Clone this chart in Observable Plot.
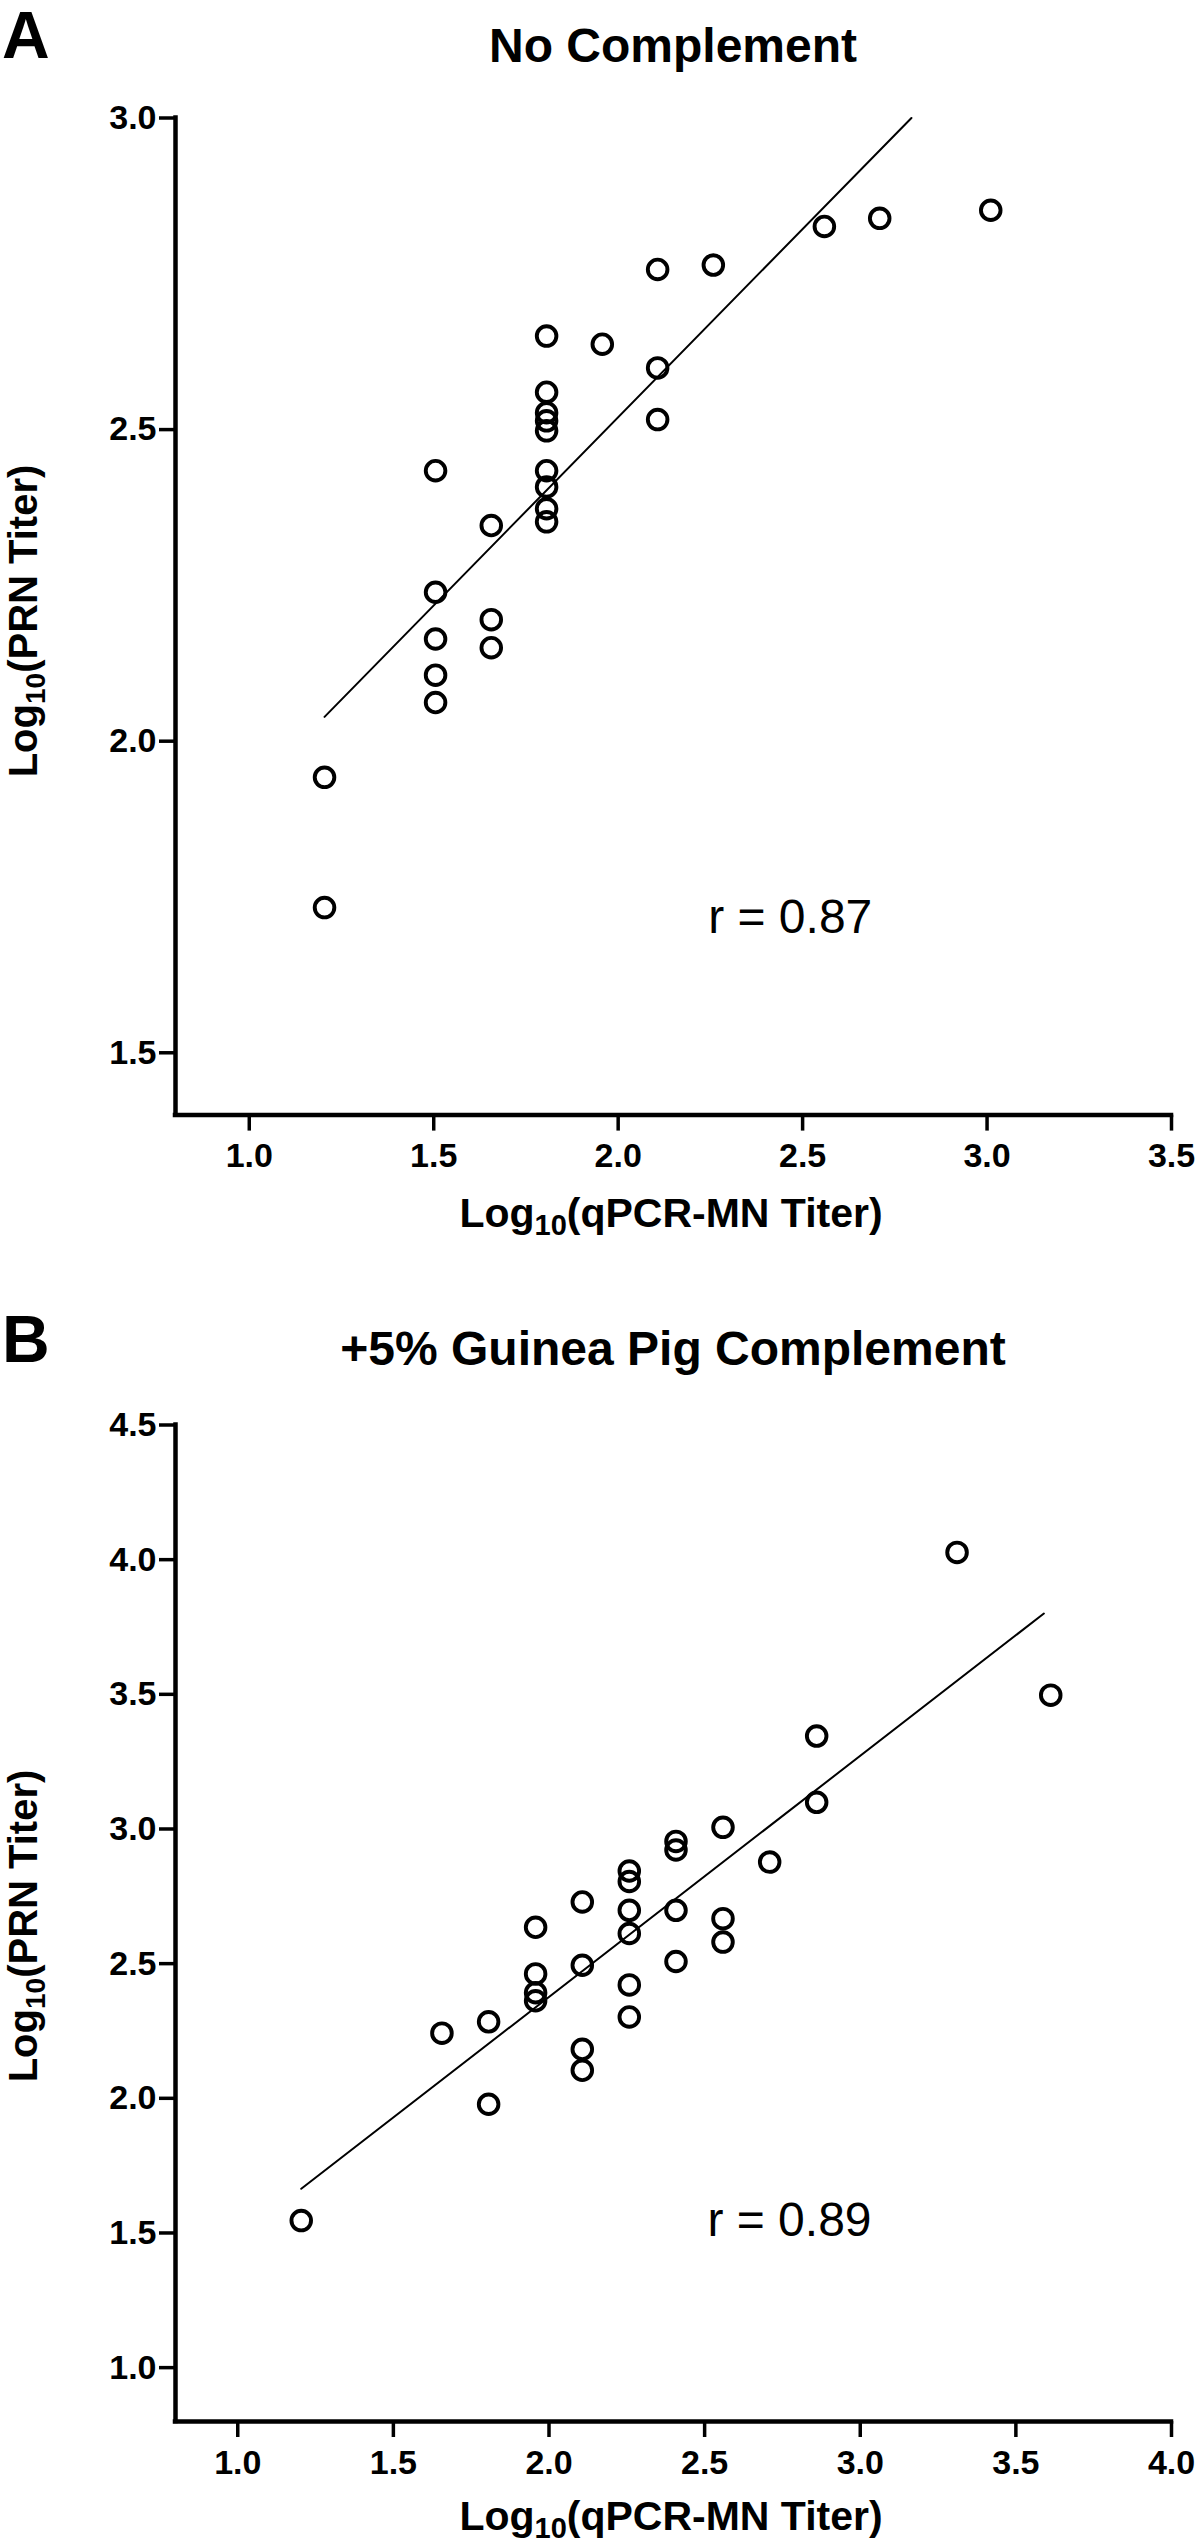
<!DOCTYPE html>
<html>
<head>
<meta charset="utf-8">
<script src="https://cdn.jsdelivr.net/npm/d3@7"></script>
<script src="https://cdn.jsdelivr.net/npm/@observablehq/plot@0.6"></script>
<style>
  html, body { margin: 0; padding: 0; background: #fff; }
  #root { position: relative; width: 1200px; height: 2548px; background: #fff; }
  .panel { position: absolute; left: 0; }
</style>
</head>
<body>
<div id="root"></div>
<script>
const FONT = '"Liberation Sans", Arial, Helvetica, sans-serif';

// ---------- Panel A: No Complement ----------
const panelA_letter = "A";
const panelA_title = "No Complement";
const panelA_x = [1.204, 1.204, 1.505, 1.505, 1.505, 1.505, 1.505, 1.656, 1.656, 1.656,
                  1.806, 1.806, 1.806, 1.806, 1.806, 1.806, 1.806, 1.806, 1.806,
                  1.957, 2.107, 2.107, 2.107, 2.258, 2.559, 2.709, 3.010];
const panelA_y = [1.942, 1.733, 2.434, 2.239, 2.164, 2.106, 2.062, 2.346, 2.195, 2.150,
                  2.650, 2.560, 2.527, 2.514, 2.498, 2.434, 2.408, 2.373, 2.352,
                  2.637, 2.757, 2.599, 2.516, 2.764, 2.826, 2.839, 2.852];
const panelA_fitX = [1.204, 2.795];
const panelA_fitY = [2.039, 3.0];
const panelA_xDomain = [0.8, 3.5];
const panelA_yDomain = [1.4, 3.0];
const panelA_xTicks = [1.0, 1.5, 2.0, 2.5, 3.0, 3.5];
const panelA_yTicks = [1.5, 2.0, 2.5, 3.0];
const panelA_r = [{x: 2.244, y: 1.692, label: "r = 0.87"}];

// ---------- Panel B: +5% Guinea Pig Complement ----------
const panelB_letter = "B";
const panelB_title = "+5% Guinea Pig Complement";
const panelB_x = [1.204, 1.656, 1.806, 1.806, 1.957, 1.957, 1.957, 1.957,
                  2.107, 2.107, 2.107, 2.107, 2.258, 2.258, 2.258, 2.258, 2.258, 2.258,
                  2.408, 2.408, 2.408, 2.408, 2.559, 2.559, 2.559, 2.709, 2.860, 2.860,
                  3.311, 3.612];
const panelB_y = [1.546, 2.242, 2.284, 1.978, 2.635, 2.462, 2.392, 2.362,
                  2.729, 2.494, 2.182, 2.104, 2.844, 2.805, 2.698, 2.612, 2.421, 2.302,
                  2.954, 2.922, 2.698, 2.508, 3.006, 2.667, 2.580, 2.877, 3.345, 3.099,
                  4.027, 3.497];
const panelB_fitX = [1.204, 3.59];
const panelB_fitY = [1.664, 3.80];
const panelB_xDomain = [0.8, 4.0];
const panelB_yDomain = [0.8, 4.5];
const panelB_xTicks = [1.0, 1.5, 2.0, 2.5, 3.0, 3.5, 4.0];
const panelB_yTicks = [1.0, 1.5, 2.0, 2.5, 3.0, 3.5, 4.0, 4.5];
const panelB_r = [{x: 2.509, y: 1.487, label: "r = 0.89"}];

const xLabelMain = "Log", xLabelSub = "10", xLabelRest = "(qPCR-MN Titer)";
const yLabelMain = "Log", yLabelSub = "10", yLabelRest = "(PRN Titer)";

function makePanel(cfg) {
  const pts = cfg.x.map((x, i) => ({x, y: cfg.y[i]}));
  const fit = cfg.fitX.map((x, i) => ({x, y: cfg.fitY[i]}));
  const [x0, x1] = cfg.xDomain;
  const [y0, y1] = cfg.yDomain;
  const fmt = d3.format(".1f");
  const plot = Plot.plot({
    width: 1200,
    height: cfg.height,
    marginLeft: 175,
    marginRight: 29,
    marginTop: cfg.marginTop,
    marginBottom: cfg.marginBottom,
    x: {domain: cfg.xDomain, label: null},
    y: {domain: cfg.yDomain, label: null},
    style: {fontFamily: FONT, background: "white", color: "black", overflow: "visible"},
    marks: [
      Plot.axisX({ticks: cfg.xTicks, tickFormat: fmt, tickSize: 16, tickPadding: 12,
                  fontSize: 34, fontWeight: "bold", strokeWidth: 3.5, label: null}),
      Plot.axisY({ticks: cfg.yTicks, tickFormat: fmt, tickSize: 16, tickPadding: 3,
                  fontSize: 34, fontWeight: "bold", strokeWidth: 3.5, label: null}),
      Plot.ruleX([x0], {y1: y0, y2: y1, stroke: "black", strokeWidth: 4.5, strokeLinecap: "square"}),
      Plot.ruleY([y0], {x1: x0, x2: x1, stroke: "black", strokeWidth: 4.5, strokeLinecap: "square"}),
      Plot.line(fit, {x: "x", y: "y", stroke: "black", strokeWidth: 2}),
      Plot.dot(pts, {x: "x", y: "y", r: 9.8, stroke: "black", strokeWidth: 3.9, fill: "none"}),
      Plot.text(cfg.r, {x: "x", y: "y", text: "label", fontSize: 48, fontWeight: "normal",
                        textAnchor: "start", lineAnchor: "bottom", fill: "black"})
    ]
  });

  const svg = d3.select(plot);
  // panel letter
  svg.append("text")
    .attr("x", 2).attr("y", cfg.letterBaseline)
    .attr("text-anchor", "start")
    .attr("font-family", FONT).attr("font-size", 66).attr("font-weight", "bold")
    .attr("fill", "black")
    .text(cfg.letter);
  // title
  svg.append("text")
    .attr("x", 673).attr("y", cfg.titleBaseline)
    .attr("text-anchor", "middle")
    .attr("font-family", FONT).attr("font-size", 48).attr("font-weight", "bold")
    .attr("fill", "black")
    .text(cfg.title);
  // x label
  const xl = svg.append("text")
    .attr("x", 671).attr("y", cfg.xLabelBaseline)
    .attr("text-anchor", "middle")
    .attr("font-family", FONT).attr("font-size", 41).attr("font-weight", "bold")
    .attr("fill", "black");
  xl.append("tspan").text(xLabelMain);
  xl.append("tspan").attr("font-size", 29).attr("dy", 8).text(xLabelSub);
  xl.append("tspan").attr("dy", -8).text(xLabelRest);
  // y label
  const yl = svg.append("text")
    .attr("transform", `translate(37,${cfg.yLabelCenter}) rotate(-90)`)
    .attr("text-anchor", "middle")
    .attr("font-family", FONT).attr("font-size", 40).attr("font-weight", "bold")
    .attr("fill", "black");
  yl.append("tspan").text(yLabelMain);
  yl.append("tspan").attr("font-size", 28).attr("dy", 8).text(yLabelSub);
  yl.append("tspan").attr("dy", -8).text(yLabelRest);

  plot.classList.add("panel");
  plot.style.top = cfg.top + "px";
  return plot;
}

const root = document.getElementById("root");
root.appendChild(makePanel({
  letter: panelA_letter, title: panelA_title,
  x: panelA_x, y: panelA_y, fitX: panelA_fitX, fitY: panelA_fitY,
  xDomain: panelA_xDomain, yDomain: panelA_yDomain,
  xTicks: panelA_xTicks, yTicks: panelA_yTicks, r: panelA_r,
  top: 0, height: 1248, marginTop: 117.5, marginBottom: 133.4,
  letterBaseline: 58, titleBaseline: 62, xLabelBaseline: 1227, yLabelCenter: 621
}));
root.appendChild(makePanel({
  letter: panelB_letter, title: panelB_title,
  x: panelB_x, y: panelB_y, fitX: panelB_fitX, fitY: panelB_fitY,
  xDomain: panelB_xDomain, yDomain: panelB_yDomain,
  xTicks: panelB_xTicks, yTicks: panelB_yTicks, r: panelB_r,
  top: 1248, height: 1300, marginTop: 176.5, marginBottom: 127,
  letterBaseline: 114, titleBaseline: 117, xLabelBaseline: 1282, yLabelCenter: 678
}));
</script>
</body>
</html>
